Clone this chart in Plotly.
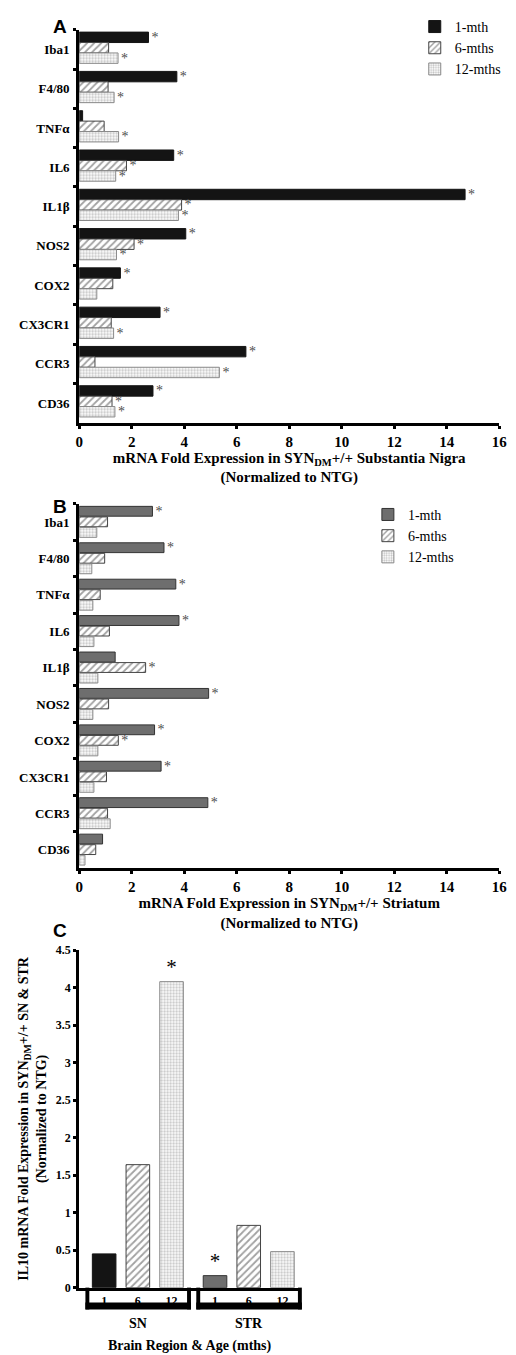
import plotly.graph_objects as go

W, H = 516, 1355
SERIF = "Liberation Serif"
SANS = "Liberation Sans"

# ---------------- data ----------------
genes = ["Iba1", "F4/80", "TNFα", "IL6", "IL1β", "NOS2", "COX2", "CX3CR1", "CCR3", "CD36"]
ages = ["1-mth", "6-mths", "12-mths"]

# Panel A: substantia nigra
sn_1 = [2.64, 3.72, 0.13, 3.60, 14.70, 4.06, 1.57, 3.08, 6.35, 2.81]
sn_6 = [1.12, 1.10, 0.95, 1.80, 3.90, 2.09, 1.28, 1.22, 0.60, 1.25]
sn_12 = [1.48, 1.33, 1.50, 1.39, 3.78, 1.42, 0.67, 1.31, 5.34, 1.36]
sn_sig_1 = [1, 1, 0, 1, 1, 1, 1, 1, 1, 1]
sn_sig_6 = [0, 0, 0, 1, 1, 1, 0, 0, 0, 1]
sn_sig_12 = [1, 1, 1, 1, 1, 1, 0, 1, 1, 1]

# Panel B: striatum
str_1 = [2.79, 3.23, 3.68, 3.80, 1.37, 4.93, 2.87, 3.12, 4.90, 0.89]
str_6 = [1.08, 0.97, 0.80, 1.15, 2.53, 1.12, 1.49, 1.04, 1.08, 0.63]
str_12 = [0.67, 0.48, 0.52, 0.56, 0.71, 0.52, 0.71, 0.56, 1.18, 0.22]
str_sig_1 = [1, 1, 1, 1, 0, 1, 1, 1, 1, 0]
str_sig_6 = [0, 0, 0, 0, 1, 0, 1, 0, 0, 0]
str_sig_12 = [0, 0, 0, 0, 0, 0, 0, 0, 0, 0]

# Panel C: IL10
regions = ["SN", "STR"]
il10_ages = ["1", "6", "12"]
il10_sn = [0.45, 1.64, 4.08]
il10_str = [0.16, 0.83, 0.48]
il10_sig_sn = [0, 0, 1]
il10_sig_str = [1, 0, 0]

# ---------------- styles ----------------
BLACK = dict(color="#141414", line=dict(color="#141414", width=1))
GRAY = dict(color="#6e6e6e", line=dict(color="#333333", width=1))
HATCH = dict(color="white", line=dict(color="#444444", width=1),
             pattern=dict(shape="/", fgcolor="#444444", bgcolor="white", size=5, solidity=0.35))
DOTS = dict(color="white", line=dict(color="#8a8a8a", width=1),
            pattern=dict(shape=".", fgcolor="#8a8a8a", bgcolor="white", size=3, solidity=0.45))


def py(p):
    return 1 - p / H


A_dx = [77 / W, 507 / W]
A_dy = [py(420), py(23)]
B_dy = [py(870), py(502)]
C_dx = [77 / W, 303 / W]
C_dy = [py(1294), py(953)]

fig = go.Figure()


def hbar(vals, sig, name, style, xa, ya, offset, width, legend):
    return go.Bar(
        x=vals, y=genes, orientation="h", name=name, xaxis=xa, yaxis=ya,
        offset=offset, width=width,
        text=["*" if s else " " for s in sig], textposition="outside",
        textfont=dict(family=SERIF, size=14, color="#4d4d4d"),
        constraintext="none", cliponaxis=False,
        marker=style, legend=legend, showlegend=True,
    )


wA, wB = 0.265, 0.27
offA = [-0.44, -0.175, 0.09]
offB = [-0.43, -0.14, 0.15]

for vals, sig, name, style, off in zip([sn_1, sn_6, sn_12], [sn_sig_1, sn_sig_6, sn_sig_12],
                                        ages, [BLACK, HATCH, DOTS], offA):
    fig.add_trace(hbar(vals, sig, name, style, "x", "y", off, wA, "legend"))

for vals, sig, name, style, off in zip([str_1, str_6, str_12], [str_sig_1, str_sig_6, str_sig_12],
                                        ages, [GRAY, HATCH, DOTS], offB):
    fig.add_trace(hbar(vals, sig, name, style, "x2", "y2", off, wB, "legend2"))

# Panel C positions
GROUP_STEP = 3.29
C_range = [0.26, 6.81]
c_vals = [il10_sn, il10_str]
c_sig = [il10_sig_sn, il10_sig_str]
c_styles = [None, HATCH, DOTS]
for a, age in enumerate(il10_ages):
    pos = [1 + g * GROUP_STEP + a for g in range(len(regions))]
    vals = [c_vals[g][a] for g in range(len(regions))]
    if a == 0:
        style = dict(color=["#141414", "#6e6e6e"], line=dict(color=["#141414", "#333333"], width=1))
    else:
        style = c_styles[a]
    fig.add_trace(go.Bar(
        x=pos, y=vals, width=0.7, xaxis="x3", yaxis="y3", marker=style, showlegend=False,
        name=age + " mths",
        text=["*" if c_sig[g][a] else " " for g in range(len(regions))],
        textposition="outside", constraintext="none", cliponaxis=False,
        textfont=dict(family=SERIF, size=21, color="black"),
    ))

tick_pos = sorted(1 + g * GROUP_STEP + a for g in range(len(regions)) for a in range(len(il10_ages)))
tick_txt = [il10_ages[a] for g in range(len(regions)) for a in range(len(il10_ages))]

bold_tick = dict(family=SERIF, size=15, color="black", weight="bold")
cat_tick = dict(family=SERIF, size=13, color="black", weight="bold")
title_font = dict(family=SERIF, size=15, color="black", weight="bold")


def xaxis_h(domain, anchor, title):
    return dict(domain=domain, anchor=anchor, range=[0, 16], dtick=2, showgrid=False, zeroline=False,
                showline=True, linewidth=3, linecolor="black", ticks="outside", ticklen=3, tickwidth=3,
                tickcolor="black", tickfont=bold_tick,
                title=dict(text=title, font=title_font, standoff=3))


def yaxis_h(domain, anchor):
    return dict(domain=domain, anchor=anchor, type="category", categoryorder="array", categoryarray=genes,
                range=[9.5, -0.5], showgrid=False, zeroline=False, showline=True, linewidth=3,
                linecolor="black", ticks="outside", tickson="boundaries", ticklen=3, tickwidth=3,
                tickcolor="black", tickfont=cat_tick, ticklabelstandoff=4)


fig.update_layout(
    width=W, height=H, margin=dict(l=0, r=0, t=0, b=0),
    paper_bgcolor="white", plot_bgcolor="white",
    font=dict(family=SERIF, color="black"),
    xaxis=xaxis_h(A_dx, "y", "mRNA Fold Expression in SYN<sub>DM</sub>+/+ Substantia Nigra<br>(Normalized to NTG)"),
    yaxis=yaxis_h(A_dy, "x"),
    xaxis2=xaxis_h(A_dx, "y2", "mRNA Fold Expression in SYN<sub>DM</sub>+/+ Striatum<br>(Normalized to NTG)"),
    yaxis2=yaxis_h(B_dy, "x2"),
    xaxis3=dict(domain=C_dx, anchor="y3", range=C_range, tickvals=tick_pos, ticktext=tick_txt,
                showgrid=False, zeroline=False, showline=True, linewidth=3, linecolor="black", ticks="",
                tickfont=dict(family=SERIF, size=12, color="black", weight="bold"),
                title=dict(text="Brain Region & Age (mths)", font=dict(family=SERIF, size=14, color="black", weight="bold"),
                           standoff=34)),
    yaxis3=dict(domain=C_dy, anchor="x3", range=[0, 4.5], dtick=0.5, showgrid=False, zeroline=False,
                showline=True, linewidth=3, linecolor="black", ticks="outside", ticklen=3, tickwidth=3,
                tickcolor="black", tickfont=dict(family=SERIF, size=12, color="black", weight="bold"),
                title=dict(text="IL10 mRNA Fold Expression in SYN<sub>DM</sub>+/+ SN & STR<br>(Normalized to NTG)",
                           font=dict(family=SERIF, size=14, color="black", weight="bold"), standoff=6)),
    barmode="overlay",
    legend=dict(x=0.815, y=py(4), xanchor="left", yanchor="top", bgcolor="rgba(0,0,0,0)",
                font=dict(family=SERIF, size=14, color="black"), traceorder="normal"),
    legend2=dict(x=0.722, y=py(497), xanchor="left", yanchor="top", bgcolor="rgba(0,0,0,0)",
                 font=dict(family=SERIF, size=14, color="black"), traceorder="normal"),
)

# panel letters
for letter, ypx in [("A", 20), ("B", 505), ("C", 933)]:
    fig.add_annotation(text="<b>%s</b>" % letter, x=57 / W, y=py(ypx), xref="paper", yref="paper",
                       xanchor="center", yanchor="middle",
                       showarrow=False, font=dict(family=SANS, size=19, color="black"))


# bracket group labels under panel C
def c_to_paper(v):
    return C_dx[0] + (v - C_range[0]) / (C_range[1] - C_range[0]) * (C_dx[1] - C_dx[0])


for g, reg in enumerate(regions):
    first = 1 + g * GROUP_STEP
    last = first + len(il10_ages) - 1
    x0, x1 = c_to_paper(first - 0.44), c_to_paper(last + 0.46)
    sw = 4 / W
    for (a0, a1, b0, b1) in [(x0 - sw, x0, 1294, 1316), (x1, x1 + sw, 1294, 1316), (x0 - sw, x1 + sw, 1309, 1316)]:
        fig.add_shape(type="rect", xref="paper", yref="paper", x0=a0, x1=a1, y0=py(b1), y1=py(b0),
                      fillcolor="black", line=dict(width=0))
    fig.add_annotation(text="<b>%s</b>" % reg, x=c_to_paper((first + last) / 2), y=py(1330),
                       xref="paper", yref="paper", xanchor="center", yanchor="middle", showarrow=False,
                       font=dict(family=SERIF, size=14, color="black"))

fig.write_html("out.html", config={"displayModeBar": False},
               post_script="document.body.style.margin='0';")
